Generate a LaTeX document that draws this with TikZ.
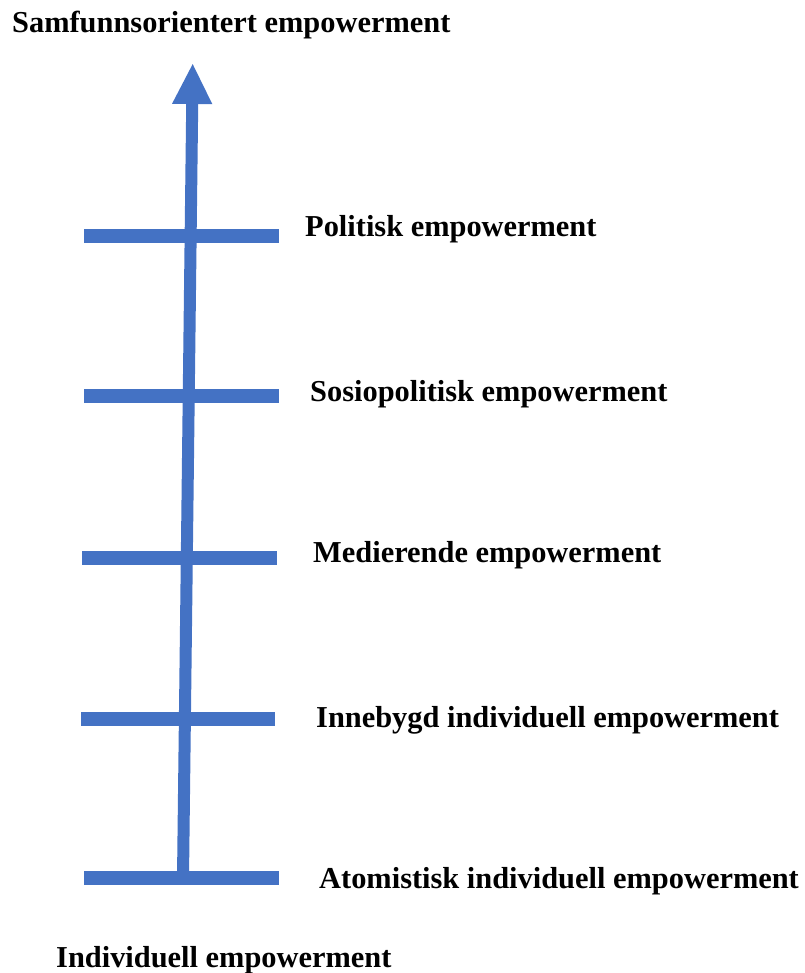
\documentclass[tikz,border=0pt]{standalone}
\usepackage{fontspec}
\setmainfont{Liberation Serif}
\usetikzlibrary{arrows.meta}
\definecolor{barblue}{HTML}{4472C4}
\begin{document}
\begin{tikzpicture}[x=1pt,y=-1pt,
  bar/.style={draw=barblue,line width=14pt},
  shaft/.style={draw=barblue,line width=12pt,-{Triangle[width=37pt,length=41pt]}},
  lbl/.style={anchor=base west,inner sep=0pt,font=\fontsize{30.4}{31}\selectfont\bfseries}]
\useasboundingbox (0,0) rectangle (804,973);
% axis
\coordinate (bottom) at (183,878);
\coordinate (top) at (192.7,63);
\draw[shaft] (bottom) -- (top);
% bars
\foreach \y/\xa/\xb [count=\i] in {236/84/279, 396/84/279, 558/82/277, 719/81/275, 878/84/279}{
  \coordinate (b\i l) at (\xa,\y);
  \coordinate (b\i r) at (\xb,\y);
  \draw[bar] (b\i l) -- (b\i r);
}
% labels
\node[lbl] (t0) at (12,33) {Samfunnsorientert empowerment};
\node[lbl] (t1) at (305,237) {Politisk empowerment};
\node[lbl] (t2) at (310,401) {Sosiopolitisk empowerment};
\node[lbl] (t3) at (313,562) {Medierende empowerment};
\node[lbl] (t4) at (316,727) {Innebygd individuell empowerment};
\node[lbl] (t5) at (319,888) {Atomistisk individuell empowerment};
\node[lbl] (t6) at (56,967) {Individuell empowerment};
\end{tikzpicture}
\end{document}
